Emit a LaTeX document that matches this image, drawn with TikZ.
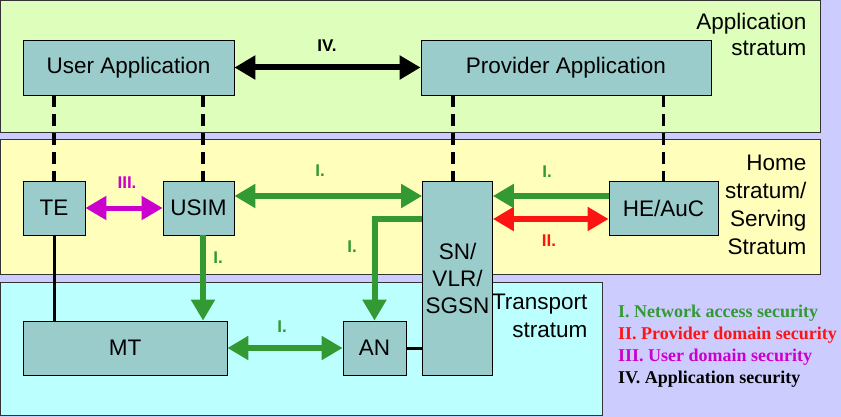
\documentclass[tikz,border=0pt]{standalone}
\usepackage{fontspec}
\setmainfont{Liberation Sans}
\newfontfamily\legendfont{Liberation Serif}
\usepackage{xcolor}
\usepackage{tikz}
\usetikzlibrary{positioning,calc,arrows.meta}

\definecolor{bgLavender}{RGB}{204,204,255}
\definecolor{appGreen}{RGB}{221,255,187}
\definecolor{homeYellow}{RGB}{255,255,187}
\definecolor{transCyan}{RGB}{187,255,255}
\definecolor{boxTeal}{RGB}{155,204,204}
\definecolor{secGreen}{RGB}{51,153,51}
\definecolor{secRed}{RGB}{255,20,20}
\definecolor{secMagenta}{RGB}{204,0,204}

\begin{document}
\begin{tikzpicture}[
	x=1pt, y=-1pt,
	>={Triangle[length=21pt,width=23pt]},
	box/.style={                % khối chức năng
		draw=black, line width=0.8pt,
		fill=boxTeal,
		font=\fontsize{22.5}{27}\selectfont,
		align=center, inner sep=0pt
	},
	layer/.style={draw=black!80, line width=1pt},
	stratum_lbl/.style={
		font=\fontsize{22.5}{27}\selectfont,
		align=right, anchor=east
	},
	dash_link/.style={dash pattern=on 12pt off 7pt, line width=3.5pt},
	solid_link/.style={line width=3pt},
	sec_arrow/.style={line width=6pt},
	sec_lbl/.style={font=\bfseries\fontsize{17}{20}\selectfont},
	legend_item/.style={
		font=\legendfont\bfseries\fontsize{18}{22}\selectfont,
		anchor=west, inner sep=0pt
	}
	]
	% --- NỀN VÀ CÁC TẦNG ---
	\fill[bgLavender] (0,0) rectangle (841,417);
	\useasboundingbox (0,0) rectangle (841,417);
	\draw[layer, fill=appGreen] (0.5,0.5) rectangle (820,133);
	\draw[layer, fill=homeYellow] (0.5,140) rectangle (820,274);
	\draw[layer, fill=transCyan] (0.5,282) rectangle (602,415);
	
	\node[stratum_lbl, font=\fontsize{22.5}{26}\selectfont] (lbl-app) at (810,34) {Application\\stratum};
	\node[stratum_lbl, font=\fontsize{22.5}{28}\selectfont] (lbl-home) at (810,205) {Home\\stratum/\\Serving\\Stratum};
	\node[stratum_lbl, font=\fontsize{22.5}{28}\selectfont] (lbl-trans) at (591,316) {Transport\\stratum};
	
	% --- CÁC KHỐI ---
	\node[box, minimum width=211pt, minimum height=55pt] (ua) at (128.5,67.5) {User Application};
	\node[box, minimum width=290pt, minimum height=55pt] (pa) at (566,67.5) {Provider Application};
	\node[box, minimum width=62pt, minimum height=54pt] (te) at (54,208) {TE};
	\node[box, minimum width=71pt, minimum height=54pt] (usim) at (198.5,208) {USIM};
	\node[box, minimum width=109pt, minimum height=54pt] (he) at (663.5,208) {HE/AuC};
	\node[box, minimum width=70pt, minimum height=194pt] (sn) at (457.5,278) {SN/\\VLR/\\SGSN};
	\node[box, minimum width=204pt, minimum height=54pt] (mt) at (125,348) {MT};
	\node[box, minimum width=63pt, minimum height=54pt] (an) at (374.5,348) {AN};
	
	% Làn ngang / dọc cho các mũi tên
	\coordinate (usim_link) at (203,0);
	\coordinate (sn_link) at (453,0);
	\coordinate (upper_lane) at (0,196);
	\coordinate (lower_lane) at (0,219);
	
	% --- ĐƯỜNG NỐI ---
	\draw[dash_link] (ua.south -| te.north) -- (te.north);
	\draw[dash_link] (ua.south -| usim_link) -- (usim.north -| usim_link);
	\draw[dash_link] (pa.south -| sn_link) -- (sn.north -| sn_link);
	\draw[dash_link] (pa.south -| he.north) -- (he.north);
	\draw[solid_link] (te.south) -- (te.south |- mt.north);
	\draw[solid_link] (an.east) -- (an.east -| sn.west);
	
	% --- MŨI TÊN BẢO MẬT ---
	% IV. Application security
	\draw[sec_arrow, <->, black] (ua.east) -- (pa.west);
	\node[sec_lbl] (lbl-iv) at (327,46) {IV.};
	% III. User domain security
	\draw[sec_arrow, <->, secMagenta, line width=5pt] (te.east) -- (usim.west);
	\node[sec_lbl, text=secMagenta] (lbl-iii) at (127,183) {III.};
	% I. Network access security
	\draw[sec_arrow, <->, secGreen] (usim.east |- upper_lane) -- (sn.west |- upper_lane);
	\node[sec_lbl, text=secGreen] (lbl-i1) at (320,171) {I.};
	\draw[sec_arrow, ->, secGreen] (he.west |- upper_lane) -- (sn.east |- upper_lane);
	\node[sec_lbl, text=secGreen] (lbl-i2) at (547,172) {I.};
	\draw[sec_arrow, ->, secGreen] (sn.west |- lower_lane) -| (an.north);
	\node[sec_lbl, text=secGreen] (lbl-i3) at (352,247) {I.};
	\draw[sec_arrow, ->, secGreen] (usim.south -| usim_link) -- (mt.north -| usim_link);
	\node[sec_lbl, text=secGreen] (lbl-i4) at (218,258) {I.};
	\draw[sec_arrow, <->, secGreen] (mt.east) -- (an.west);
	\node[sec_lbl, text=secGreen] (lbl-i5) at (282,327) {I.};
	% II. Provider domain security
	\draw[sec_arrow, <->, secRed] (sn.east |- lower_lane) -- (he.west |- lower_lane);
	\node[sec_lbl, text=secRed] (lbl-ii) at (549,241) {II.};
	
	% --- CHÚ THÍCH ---
	\foreach \txt/\col [count=\i] in {I. Network access security/secGreen,
		II. Provider domain security/secRed,
		III. User domain security/secMagenta,
		IV. Application security/black} {
		\node[legend_item, text=\col] (legend-\i) at (618,291+22*\i) {\txt};
	}
	
\end{tikzpicture}
\end{document}
